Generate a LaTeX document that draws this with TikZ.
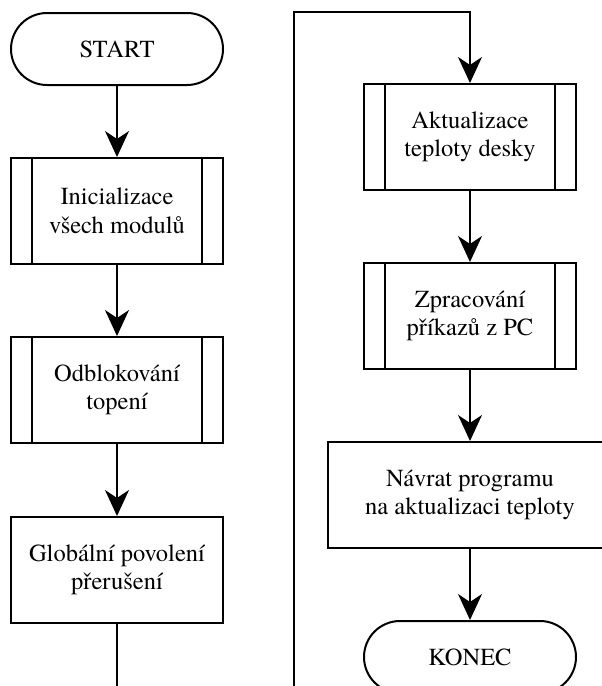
\documentclass[tikz,border=0pt]{standalone}
\usepackage{fontspec}
\setmainfont{texgyretermes}[Extension=.otf, UprightFont=*-regular]
\usetikzlibrary{positioning, arrows.meta, shapes.misc}

\begin{document}
\begin{tikzpicture}[
  x=1pt, y=1pt,
  >={Stealth[length=26pt, width=24pt, inset=8pt]},
  node distance=71pt,
  line width=2pt,
  box/.style={draw, minimum width=212pt, minimum height=106pt, inner sep=0pt,
              align=center, font=\fontsize{24.5}{28.5}\selectfont},
  term/.style={box, rounded rectangle, minimum height=72pt},
  sub/.style={box, path picture={
      \draw ([xshift=21pt]path picture bounding box.north west)
         -- ([xshift=21pt]path picture bounding box.south west);
      \draw ([xshift=-21pt]path picture bounding box.north east)
         -- ([xshift=-21pt]path picture bounding box.south east);}}
]
  \useasboundingbox (0,0) rectangle (602,-686);

  % left column
  \node[term] (start) at (117,-49) {START};
  \node[sub, below=of start] (init) {Inicializace\\všech modulů};
  \node[sub, below=of init]  (odbl) {Odblokování\\topení};
  \node[box, below=72pt of odbl] (glob) {Globální povolení\\přerušení};
  \coordinate (endL) at (117,-690);

  \draw[->] (start) -- (init);
  \draw[->] (init) -- (odbl);
  \draw[->] (odbl) -- (glob);
  \draw (glob) -- (endL);

  % right column
  \node[sub] (akt) at (470,-137) {Aktualizace\\teploty desky};
  \node[sub, below=of akt]   (zprac)  {Zpracování\\příkazů z PC};
  \node[box, below=of zprac, minimum width=284pt] (navrat)
        {Návrat programu\\na aktualizaci teploty};
  \node[term, below=of navrat] (konec) {KONEC};
  \coordinate (contR) at (294,-690);
  \coordinate (topR)  at (294,-12);

  \draw[->] (contR) -- (topR) -| (akt);
  \draw[->] (akt) -- (zprac);
  \draw[->] (zprac) -- (navrat);
  \draw[->] (navrat) -- (konec);
\end{tikzpicture}
\end{document}
